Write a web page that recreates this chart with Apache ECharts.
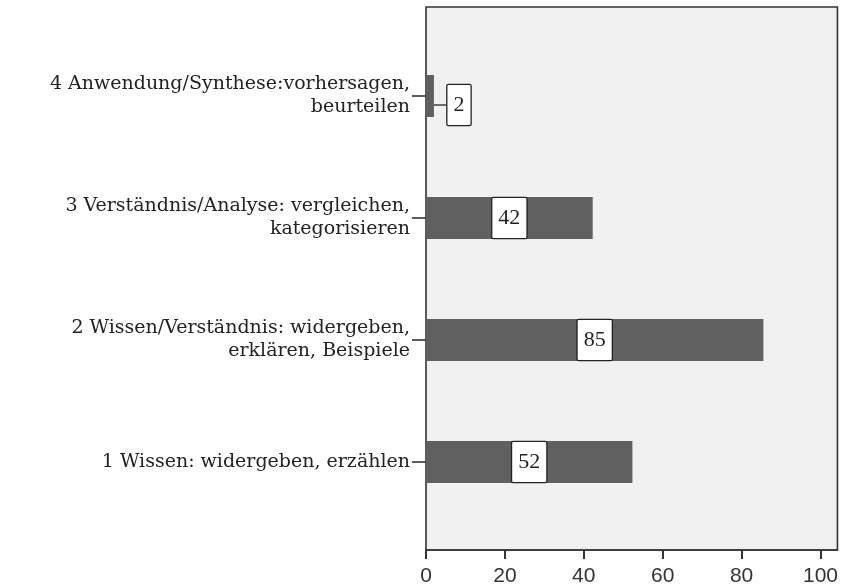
<!DOCTYPE html>
<html><head><meta charset="utf-8">
<script src="https://cdn.jsdelivr.net/npm/echarts@6/dist/echarts.min.js"></script>
<style>html,body{margin:0;padding:0;background:#fff}#c{width:841px;height:587px}</style>
</head><body><div id="c"></div>
<script>
var categories = [
  '1 Wissen: widergeben, erzählen',
  '2 Wissen/Verständnis: widergeben,\nerklären, Beispiele',
  '3 Verständnis/Analyse: vergleichen,\nkategorisieren',
  '4 Anwendung/Synthese:vorhersagen,\nbeurteilen'
];
var values = [52, 85, 42, 2];
var xTicks = [0, 20, 40, 60, 80, 100];
var xMax = 104.3;

var chart = echarts.init(document.getElementById('c'));
chart.setOption({
  animation: false,
  grid: [
    {left: 426, right: 1, top: 7, bottom: 36, show: true, backgroundColor: '#f0f0f0', borderColor: '#333', borderWidth: 1.6},
    {left: 426, right: 1, top: 35, bottom: 64}
  ],
  xAxis: [
    {gridIndex: 0, type: 'value', min: 0, max: xMax,
     axisLine: {show: true, lineStyle: {color: '#333', width: 1.6}},
     axisTick: {show: true, inside: false, length: 9, customValues: xTicks, lineStyle: {color: '#333', width: 2}},
     axisLabel: {color: '#333', fontFamily: 'Liberation Sans', fontSize: 21, margin: 16, customValues: xTicks},
     splitLine: {show: false}},
    {gridIndex: 1, type: 'value', min: 0, max: xMax, show: false, splitLine: {show: false}}
  ],
  yAxis: [
    {gridIndex: 0, type: 'value', show: false, splitLine: {show: false}},
    {gridIndex: 1, type: 'category', data: categories,
     axisLine: {show: false},
     axisTick: {show: true, alignWithLabel: true, length: 14, lineStyle: {color: '#333', width: 1.6}},
     axisLabel: {color: '#222', fontFamily: 'DejaVu Serif', fontSize: 19, lineHeight: 23, margin: 16, align: 'right'}}
  ],
  series: [{
    type: 'bar', xAxisIndex: 1, yAxisIndex: 1, data: values, barWidth: 42,
    itemStyle: {color: '#606060'},
    label: {show: true, position: 'inside', color: '#222', fontFamily: 'Liberation Serif', fontSize: 22, lineHeight: 22,
      backgroundColor: '#fff', borderColor: '#222', borderWidth: 1.3, borderRadius: 1, padding: [9, 6, 9, 6]},
    labelLayout: function (p) { if (p.dataIndex === 3) return {dx: 29, dy: 9}; },
    labelLine: {show: true, lineStyle: {color: '#222', width: 1.3}}
  }]
});
</script></body></html>
